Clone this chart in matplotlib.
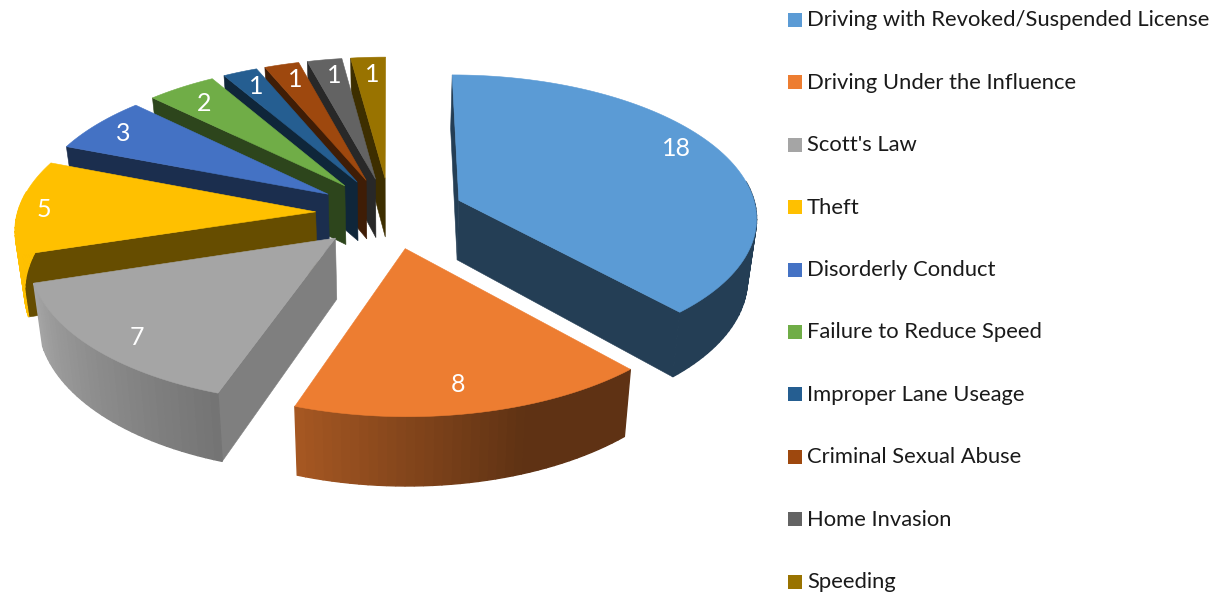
import numpy as np
import matplotlib
matplotlib.use("Agg")
from matplotlib import pyplot as plt
from matplotlib.patches import Polygon, Rectangle
from matplotlib.colors import to_rgb

categories = ["Driving with Revoked/Suspended License", "Driving Under the Influence",
              "Scott's Law", "Theft", "Disorderly Conduct", "Failure to Reduce Speed",
              "Improper Lane Useage", "Criminal Sexual Abuse", "Home Invasion", "Speeding"]
values = [18, 8, 7, 5, 3, 2, 1, 1, 1, 1]
colors = ["#5B9BD5", "#ED7D31", "#A5A5A5", "#FFC000", "#4472C4",
          "#70AD47", "#255E91", "#9E480E", "#636363", "#997300"]
cut_shade = [0.4, 0.4, 0.77, 0.4, 0.4, 0.4, 0.4, 0.4, 0.4, 0.4]

# view of the tilted pie, in pixels
CX, CY = 390.0, 213.0
A, B, K = 298.0, 141.6, 0.108
EXPLODE = 0.25
HEIGHT = 60.0
LABEL_R = 0.85
label_dx = [-7, -6, 4, -20, -7, 0, 0, 2, 3, 2]
label_dy = [-11, -1, 6, 2, -1, 2, -1, -1, -1, 0]


def project(X, Y, bottom=False):
    w = 1 + K * Y
    sx = A * X / w
    sy = -B * Y / w
    if bottom:
        return CX + sx * 0.975, CY + sy + HEIGHT / w
    return CX + sx, CY + sy


def shade(color, f):
    return tuple(min(1, c * f) for c in to_rgb(color))


fig = plt.figure(figsize=(12.14, 5.92), dpi=100)
ax = fig.add_axes([0, 0, 1, 1])
ax.set_xlim(0, 1214)
ax.set_ylim(592, 0)
ax.axis("off")

angles = np.cumsum([0] + values) / sum(values) * 2 * np.pi
mids = (angles[:-1] + angles[1:]) / 2


def quad(x0, y0, x1, y1, x2, y2, x3, y3, color, z, lw=0.4):
    ax.add_patch(Polygon([[x0, y0], [x1, y1], [x2, y2], [x3, y3]], closed=True,
                         fc=color, ec=color, lw=lw, zorder=z))


# back slices first
order = sorted(range(len(values)), key=lambda i: -np.cos(mids[i]))
for n, i in enumerate(order):
    z = 2 + n
    ox, oy = EXPLODE * np.sin(mids[i]), EXPLODE * np.cos(mids[i])
    t = np.linspace(angles[i], angles[i + 1], max(6, values[i] * 5))
    X, Y = ox + np.sin(t), oy + np.cos(t)
    tx, ty = project(X, Y)
    bx, by = project(X, Y, bottom=True)
    ax0, ay0 = project(ox, oy)
    bx0, by0 = project(ox, oy, bottom=True)

    # cut faces, only those turned to us
    cut = shade(colors[i], cut_shade[i])
    if np.sin(t[-1]) > 0:
        quad(ax0, ay0, tx[-1], ty[-1], bx[-1], by[-1], bx0, by0, cut, z)
    if np.sin(t[0]) < 1e-6:
        quad(ax0, ay0, tx[0], ty[0], bx[0], by[0], bx0, by0, cut, z)

    # outer rim, only the part facing us, light falls from the left
    for j in range(len(t) - 1):
        mid = (t[j] + t[j + 1]) / 2
        if np.cos(mid) > 0.15:
            continue
        f = np.interp(np.degrees(mid), [0, 160, 199, 253, 360], [0.4, 0.4, 0.7, 1.0, 1.0])
        quad(tx[j], ty[j], tx[j + 1], ty[j + 1], bx[j + 1], by[j + 1], bx[j], by[j],
             shade(colors[i], f), z, lw=1.0)

    # top
    ax.add_patch(Polygon(np.column_stack([np.r_[ax0, tx], np.r_[ay0, ty]]), closed=True,
                         fc=colors[i], ec=colors[i], lw=0.4, zorder=z))

    lx, ly = project(ox + LABEL_R * np.sin(mids[i]), oy + LABEL_R * np.cos(mids[i]))
    ax.text(lx + label_dx[i], ly + label_dy[i], str(values[i]), color="white", fontsize=18,
            family="Lato", ha="center", va="center", zorder=30)

# legend
for i, name in enumerate(categories):
    yc = 20 + 62.4 * i
    ax.add_patch(Rectangle((788, yc - 7), 14, 14, fc=colors[i], ec="none"))
    ax.text(807, yc + 0.5, name, color="#1a1a1a", fontsize=15.8, family="Lato",
            ha="left", va="center")

fig.savefig("out.png", dpi=100)
